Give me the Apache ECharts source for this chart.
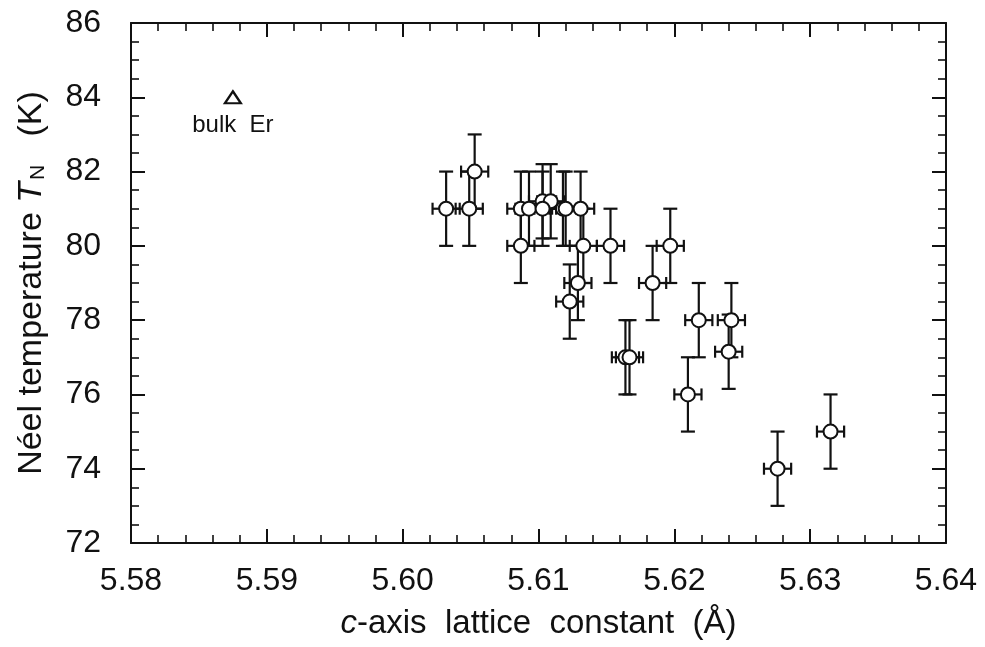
<!DOCTYPE html>
<html>
<head>
<meta charset="utf-8">
<script src="https://cdn.jsdelivr.net/npm/echarts@6/dist/echarts.min.js"></script>
<style>
html,body{margin:0;padding:0;background:#fff;}
#chart{width:985px;height:647px;}
</style>
</head>
<body>
<div id="chart"></div>
<script>
// c-axis lattice constant (Å)
const latticeC = [5.6032, 5.6049, 5.6053, 5.6087, 5.6093, 5.6103, 5.6109, 5.6103, 5.6118, 5.6120, 5.6131,
                  5.6087, 5.6133, 5.6153, 5.6197, 5.6129, 5.6123, 5.6184, 5.6164, 5.6167, 5.6218, 5.6242,
                  5.6240, 5.6210, 5.6276, 5.6315];
// Néel temperature (K)
const neelT = [81, 81, 82, 81, 81, 81.2, 81.2, 81, 81, 81, 81,
               80, 80, 80, 80, 79, 78.5, 79, 77, 77, 78, 78,
               77.15, 76, 74, 75];
// error bars
const latticeErr = [0.001, 0.001, 0.001, 0.001, 0.001, 0.001, 0.001, 0.001, 0.001, 0.001, 0.001,
                    0.001, 0.001, 0.001, 0.001, 0.001, 0.001, 0.001, 0.001, 0.001, 0.001, 0.001,
                    0.001, 0.001, 0.001, 0.001];
const neelErr = [1, 1, 1, 1, 1, 1, 1, 1, 1, 1, 1,
                 1, 1, 1, 1, 1, 1, 1, 1, 1, 1, 1,
                 1, 1, 1, 1];
// bulk Er reference point
const bulkC = [5.5875];
const bulkT = [84];
const bulkLabel = 'bulk  Er';

const xTicks = ['5.58', '5.59', '5.60', '5.61', '5.62', '5.63', '5.64'];
const yTicks = ['72', '74', '76', '78', '80', '82', '84', '86'];

const pts = latticeC.map((c, i) => [c, neelT[i], latticeErr[i], neelErr[i]]);
const ink = '#111';
const font = '"Liberation Sans", Arial, Helvetica, sans-serif';

function errRender(params, api) {
  const x = api.value(0), y = api.value(1), ex = api.value(2), ey = api.value(3);
  const l = api.coord([x - ex, y]), r = api.coord([x + ex, y]);
  const t = api.coord([x, y + ey]), b = api.coord([x, y - ey]);
  const cy = 7, cx = 6;
  const st = {stroke: ink, lineWidth: 2.2, fill: null};
  const line = (x1, y1, x2, y2) => ({type: 'line', shape: {x1, y1, x2, y2}, style: st});
  return {type: 'group', children: [
    line(l[0], l[1], r[0], r[1]),
    line(t[0], t[1], b[0], b[1]),
    line(t[0] - cy, t[1], t[0] + cy, t[1]),
    line(b[0] - cy, b[1], b[0] + cy, b[1]),
    line(l[0], l[1] - cx, l[0], l[1] + cx),
    line(r[0], r[1] - cx, r[0], r[1] + cx)
  ]};
}

const xMin = parseFloat(xTicks[0]), xMax = parseFloat(xTicks[xTicks.length - 1]);
const yMin = parseFloat(yTicks[0]), yMax = parseFloat(yTicks[yTicks.length - 1]);

function xAxisDef(pos, labels) {
  return {
    type: 'value', position: pos, min: xMin, max: xMax, interval: 0.01,
    axisLine: {show: true, onZero: false, lineStyle: {color: ink, width: 2}},
    axisTick: {show: true, inside: true, length: 14, lineStyle: {color: ink, width: 2}},
    minorTick: {show: true, splitNumber: 5, length: 8, lineStyle: {color: ink, width: 1.6}},
    splitLine: {show: false},
    axisLabel: {show: labels, margin: 22, color: ink, fontSize: 32, fontFamily: font,
                formatter: v => xTicks.find(t => Math.abs(parseFloat(t) - v) < 1e-6) || ''},
    name: labels ? '{i|c}{n|-axis  lattice  constant  (Å)}' : '',
    nameLocation: 'middle', nameGap: 64,
    nameTextStyle: {rich: {
      i: {fontSize: 33, fontStyle: 'italic', fontFamily: font, color: ink},
      n: {fontSize: 33, fontFamily: font, color: ink}
    }}
  };
}
function yAxisDef(pos, labels) {
  return {
    type: 'value', position: pos, min: yMin, max: yMax, interval: 2,
    axisLine: {show: true, onZero: false, lineStyle: {color: ink, width: 2}},
    axisTick: {show: true, inside: true, length: 14, lineStyle: {color: ink, width: 2}},
    minorTick: {show: true, splitNumber: 4, length: 8, lineStyle: {color: ink, width: 1.6}},
    splitLine: {show: false},
    axisLabel: {show: labels, margin: 30, color: ink, fontSize: 32, fontFamily: font,
                formatter: v => yTicks.find(t => Math.abs(parseFloat(t) - v) < 1e-6) || ''},
    name: labels ? '{n|Néel temperature }{i|T}{s|N}{n|   (K)}' : '',
    nameLocation: 'middle', nameGap: 82,
    nameTextStyle: {rich: {
      n: {fontSize: 34, fontFamily: font, color: ink},
      i: {fontSize: 34, fontStyle: 'italic', fontFamily: font, color: ink},
      s: {fontSize: 21, fontFamily: font, color: ink, padding: [12, 0, 0, 2]}
    }}
  };
}

const chart = echarts.init(document.getElementById('chart'), null, {renderer: 'canvas'});
chart.setOption({
  animation: false,
  backgroundColor: '#fff',
  grid: {left: 131, right: 39, top: 23, bottom: 104, containLabel: false},
  xAxis: [xAxisDef('bottom', true), xAxisDef('top', false)],
  yAxis: [yAxisDef('left', true), yAxisDef('right', false)],
  series: [
    {type: 'custom', renderItem: errRender, data: pts, xAxisIndex: 0, yAxisIndex: 0, z: 2,
     encode: {x: 0, y: 1}},
    {type: 'scatter', data: pts.map(p => [p[0], p[1]]), symbol: 'circle', symbolSize: 14, z: 3,
     itemStyle: {color: '#fff', borderColor: ink, borderWidth: 2, opacity: 1}},
    {type: 'scatter', data: bulkC.map((c, i) => [c, bulkT[i]]), symbol: 'triangle', symbolSize: [16, 12], z: 3,
     itemStyle: {color: '#fff', borderColor: ink, borderWidth: 2.2, opacity: 1},
     label: {show: true, position: 'bottom', distance: 9, formatter: bulkLabel,
             fontSize: 24, fontFamily: font, color: ink, opacity: 1}}
  ]
});
</script>
</body>
</html>
